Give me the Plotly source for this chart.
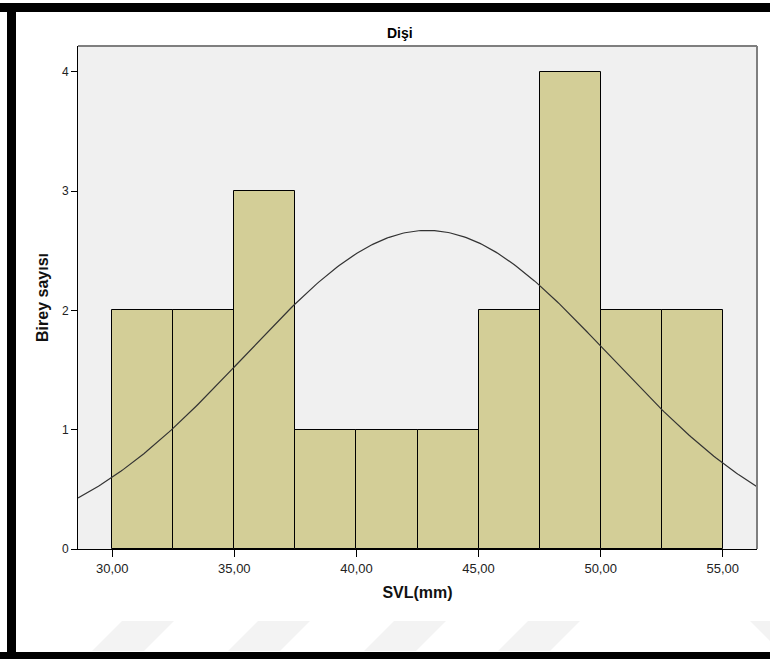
import numpy as np
import plotly.graph_objects as go

# ---- data ----
title_text = "Dişi"
x_title = "SVL(mm)"
y_title = "Birey sayısı"
bin_starts = [30.0, 32.5, 35.0, 37.5, 40.0, 42.5, 45.0, 47.5, 50.0, 52.5]
bin_width = 2.5
counts = [2, 2, 3, 1, 1, 1, 2, 4, 2, 2]
x_tick_vals = [30, 35, 40, 45, 50, 55]
x_tick_text = ["30,00", "35,00", "40,00", "45,00", "50,00", "55,00"]
y_tick_vals = [0, 1, 2, 3, 4]
# fitted normal curve parameters (as drawn by SPSS)
curve_mean = 42.9
curve_sd = 7.47

# ---- layout geometry ----
W, H = 770, 659
ML, MR, MT, MB = 78, 13, 46, 110
PW, PH = W - ML - MR, H - MT - MB
x_range = [28.6, 56.4]
y_range = [0, 4.216]


def px(x):
    return (x - ML) / PW


def py(y):
    return (H - MB - y) / PH


bin_centers = [s + bin_width / 2 for s in bin_starts]
n_total = sum(counts)
cx = np.linspace(x_range[0], x_range[1], 300)
cy = n_total * bin_width / (curve_sd * np.sqrt(2 * np.pi)) * np.exp(-0.5 * ((cx - curve_mean) / curve_sd) ** 2)

fig = go.Figure()
fig.add_trace(go.Bar(
    x=bin_centers, y=counts, width=bin_width,
    marker=dict(color="#D3CE97", line=dict(color="#000000", width=1)),
    showlegend=False, hoverinfo="x+y",
))
fig.add_trace(go.Scatter(
    x=cx, y=cy, mode="lines",
    line=dict(color="#333333", width=1.2),
    showlegend=False, hoverinfo="skip",
))

shapes = []
# faint watermark stripes at the bottom
stripe_top, stripe_bot = 621, 651
for left in [122, 258, 394, 528]:
    w = 52
    shift = stripe_bot - stripe_top
    path = "M {},{} L {},{} L {},{} L {},{} Z".format(
        px(left), py(stripe_top), px(left + w), py(stripe_top),
        px(left + w - shift), py(stripe_bot), px(left - shift), py(stripe_bot))
    shapes.append(dict(type="path", xref="paper", yref="paper", path=path,
                       fillcolor="#F3F3F3", line=dict(width=0), layer="below"))
path = "M {},{} L {},{} L {},{} L {},{} Z".format(
    px(750), py(stripe_top), px(800), py(stripe_top),
    px(830), py(stripe_bot), px(780), py(stripe_bot))
shapes.append(dict(type="path", xref="paper", yref="paper", path=path,
                   fillcolor="#F3F3F3", line=dict(width=0), layer="below"))

# black frame bands
for (x0, y0, x1, y1) in [(0, 3, W, 12), (7, 3, 16, H), (0, 652, W, H)]:
    shapes.append(dict(type="rect", xref="paper", yref="paper",
                       x0=px(x0), x1=px(x1), y0=py(y1), y1=py(y0),
                       fillcolor="#000000", line=dict(width=0), layer="above"))
# grey top and right edges of plot frame
shapes.append(dict(type="line", xref="paper", yref="paper", x0=0, x1=1, y0=1, y1=1,
                   line=dict(color="#7F7F7F", width=2)))
shapes.append(dict(type="line", xref="paper", yref="paper", x0=1, x1=1, y0=0, y1=1,
                   line=dict(color="#7F7F7F", width=2)))

fig.update_layout(
    width=W, height=H,
    margin=dict(l=ML, r=MR, t=MT, b=MB, pad=0),
    paper_bgcolor="#FFFFFF", plot_bgcolor="#F0F0F0",
    bargap=0,
    font=dict(family="Liberation Sans, Arial, sans-serif", color="#222222"),
    shapes=shapes,
    annotations=[dict(text=title_text, xref="paper", yref="paper",
                      x=px(400), y=py(33), xanchor="center", yanchor="middle",
                      showarrow=False,
                      font=dict(family="Liberation Sans Narrow, Arial Narrow, Liberation Sans, Arial",
                                size=14, color="#000000", weight="bold"))],
)
fig.update_xaxes(
    range=x_range, tickmode="array", tickvals=x_tick_vals, ticktext=x_tick_text,
    ticks="outside", ticklen=7, tickcolor="#000000", tickwidth=1,
    tickfont=dict(size=13, color="#222222"),
    showline=True, linecolor="#000000", linewidth=1, mirror=False,
    showgrid=False, zeroline=False,
    title=dict(text=x_title, standoff=12,
               font=dict(size=16, color="#111111", weight="bold")),
)
fig.update_yaxes(
    range=y_range, tickmode="array", tickvals=y_tick_vals,
    ticks="outside", ticklen=6, tickcolor="#000000", tickwidth=1,
    tickfont=dict(size=12, color="#222222"),
    showline=True, linecolor="#000000", linewidth=1, mirror=False,
    showgrid=False, zeroline=False,
    title=dict(text=y_title, standoff=9,
               font=dict(size=16, color="#111111", weight="bold")),
)

fig.write_html("out.html", config={"displayModeBar": False},
               post_script="document.body.style.margin='0px';document.body.style.overflow='hidden';")
